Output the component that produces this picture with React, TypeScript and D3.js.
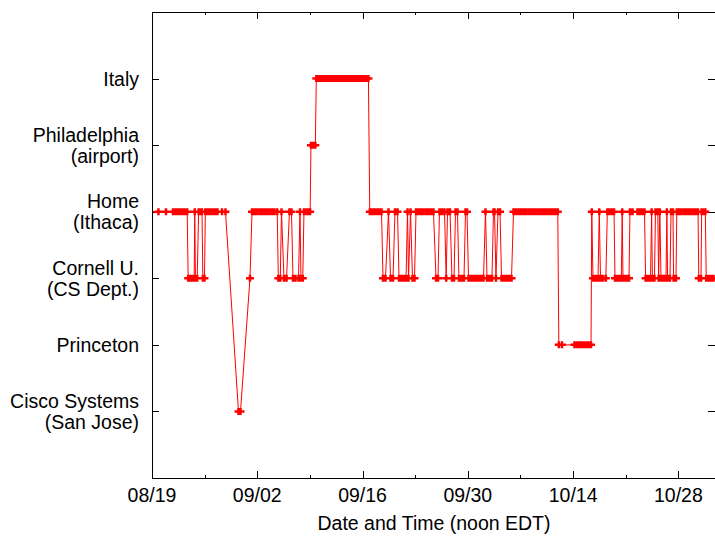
import React from "react";
import * as d3 from "d3";

// Y categories (level index -> label lines)
const placeLevels = [1, 2, 3, 4, 5, 6];
const placeLabels: string[][] = [
  ["Cisco Systems", "(San Jose)"],
  ["Princeton"],
  ["Cornell U.", "(CS Dept.)"],
  ["Home", "(Ithaca)"],
  ["Philadelphia", "(airport)"],
  ["Italy"],
];

// X axis ticks (days since 08/19)
const xTickDays = [0, 14, 28, 42, 56, 70];
const xTickLabels = ["08/19", "09/02", "09/16", "09/30", "10/14", "10/28"];
const xMinorTickDays = [7, 21, 35, 49, 63];
const xTitle = "Date and Time (noon EDT)";

// Samples: [days since 08/19, place level]
const samples: [number, number][] = [
  [-0.53, 4], [0.86, 4], [1.86, 4], [2.79, 4], [3.13, 4], [3.46, 4], [3.79, 4], [4.12, 4], [4.45, 4], [4.68, 4],
  [4.81, 3], [5.12, 3], [5.39, 3], [5.61, 3],
  [5.69, 4],
  [5.77, 3], [6.01, 3],
  [6.2, 4], [6.45, 4], [6.65, 4],
  [6.76, 3], [6.98, 3],
  [7.09, 4], [7.38, 4], [7.71, 4], [8.05, 4], [8.38, 4], [8.71, 4], [9.31, 4], [9.77, 4],
  [11.5, 1], [11.77, 1],
  [13.03, 3],
  [13.3, 4], [13.63, 4], [13.96, 4], [14.3, 4], [14.63, 4], [14.96, 4], [15.29, 4], [15.62, 4], [15.96, 4], [16.29, 4], [16.65, 4],
  [16.8, 3], [17.06, 3],
  [17.22, 4],
  [17.55, 3], [17.89, 3],
  [18.28, 4], [18.55, 4],
  [18.75, 3], [19.08, 3], [19.48, 3],
  [19.68, 4],
  [19.81, 3], [20.05, 3],
  [20.21, 4], [20.55, 4], [20.88, 4], [21.03, 4],
  [21.14, 5], [21.45, 5], [21.72, 5],
  [21.85, 6], [22.18, 6], [22.5, 6], [22.83, 6], [23.16, 6], [23.49, 6], [23.82, 6], [24.15, 6], [24.48, 6], [24.81, 6], [25.14, 6],
  [25.47, 6], [25.8, 6], [26.13, 6], [26.46, 6], [26.79, 6], [27.12, 6], [27.45, 6], [27.78, 6], [28.11, 6], [28.44, 6], [28.78, 6],
  [28.96, 4], [29.26, 4], [29.59, 4], [29.92, 4], [30.25, 4], [30.52, 4],
  [30.72, 3], [31.05, 3],
  [31.45, 4],
  [31.72, 3], [32.05, 3],
  [32.31, 4], [32.65, 4],
  [32.85, 3], [33.18, 3], [33.51, 3], [33.78, 3],
  [33.98, 4],
  [34.11, 3],
  [34.38, 4],
  [34.64, 3], [34.91, 3],
  [35.11, 4], [35.44, 4], [35.77, 4], [36.1, 4], [36.44, 4], [36.77, 4], [37.1, 4], [37.43, 4],
  [37.77, 3], [38.03, 3],
  [38.23, 4], [38.56, 4], [38.9, 4],
  [39.12, 3],
  [39.3, 4], [39.63, 4],
  [39.89, 3], [40.16, 3],
  [40.36, 4], [40.62, 4],
  [40.82, 3], [41.16, 3], [41.49, 3],
  [41.69, 4], [41.89, 4],
  [42.09, 3], [42.42, 3], [42.75, 3], [43.09, 3], [43.42, 3], [43.75, 3], [44.08, 3],
  [44.35, 4],
  [44.55, 3], [44.88, 3], [45.21, 3],
  [45.41, 4], [45.55, 4],
  [45.74, 3],
  [46.01, 4], [46.28, 4],
  [46.48, 3], [46.81, 3], [47.14, 3], [47.47, 3], [47.81, 3],
  [48.07, 4], [48.4, 4], [48.74, 4], [49.07, 4], [49.4, 4], [49.73, 4], [50.07, 4], [50.4, 4], [50.73, 4], [51.06, 4],
  [51.4, 4], [51.73, 4], [52.06, 4], [52.39, 4], [52.73, 4], [53.06, 4], [53.39, 4], [53.72, 4], [53.96, 4],
  [54.1, 2], [54.52, 2], [56.18, 2], [56.52, 2], [56.85, 2], [57.18, 2], [57.51, 2], [57.85, 2], [58.18, 2], [58.38, 2],
  [58.48, 4],
  [58.64, 3], [58.98, 3], [59.31, 3],
  [59.48, 4],
  [59.64, 3], [59.97, 3], [60.35, 3],
  [60.55, 4], [60.84, 4], [61.18, 4], [61.44, 4],
  [61.57, 3], [61.9, 3], [62.23, 3], [62.41, 3],
  [62.53, 4],
  [62.63, 3], [62.97, 3], [63.3, 3], [63.43, 3],
  [63.56, 4], [63.9, 4], [64.56, 4], [64.89, 4], [65.23, 4], [65.49, 4],
  [65.64, 3], [65.96, 3], [66.29, 3],
  [66.44, 4],
  [66.54, 3], [66.82, 3],
  [66.95, 4], [67.26, 4],
  [67.37, 3],
  [67.53, 4],
  [67.69, 3], [68.02, 3], [68.35, 3],
  [68.47, 4],
  [68.56, 3], [68.88, 3],
  [69.02, 4], [69.28, 4],
  [69.36, 3], [69.68, 3],
  [69.79, 4], [70.08, 4], [70.41, 4], [70.75, 4], [71.08, 4], [71.41, 4], [71.74, 4], [72.08, 4], [72.41, 4], [72.61, 4],
  [72.71, 3], [73.01, 3],
  [73.09, 4], [73.34, 4], [73.58, 4],
  [73.7, 3], [74.01, 3], [74.34, 3], [74.67, 3], [75.07, 3],
];

const W = 715;
const H = 537;
const left = 152;
const right = 716;
const top = 12;
const bottom = 478;
const FONT = "'Liberation Sans', Arial, Helvetica, sans-serif";
const FS = 19.5;

export default function App() {
  const x = d3.scaleLinear().domain([0, 75]).range([left, right]);
  const y = d3.scaleLinear().domain([0, 7]).range([bottom, top]);

  const line = d3
    .line<[number, number]>()
    .x((d) => x(d[0]))
    .y((d) => y(d[1]));

  const markerPath = samples
    .map((d) => {
      const px = x(d[0]);
      const py = y(d[1]);
      return `M${px - 4},${py}h8M${px},${py - 3.5}v7`;
    })
    .join("");

  const fx = (v: number) => Math.round(v) + 0.5;

  return (
    <svg
      width={W}
      height={H}
      style={{ position: "absolute", left: 0, top: 0, background: "#fff" }}
      fontFamily={FONT}
    >
      <defs>
        <clipPath id="plotClip">
          <rect x={left} y={top} width={right - left} height={bottom - top} />
        </clipPath>
      </defs>
      <rect x={0} y={0} width={W} height={H} fill="#fff" />

      {/* Y ticks and labels */}
      {placeLevels.map((lv, i) => {
        const py = fx(y(lv));
        const lines = placeLabels[i];
        return (
          <g key={"y" + lv}>
            <line x1={left} x2={left + 7} y1={py} y2={py} stroke="#000" strokeWidth={1} />
            <line x1={right - 8} x2={right} y1={py} y2={py} stroke="#000" strokeWidth={1} />
            {lines.map((t, j) => {
              const off = lines.length === 1 ? 0 : j === 0 ? -10.5 : 10.5;
              return (
                <text
                  key={j}
                  x={139}
                  y={y(lv) + off}
                  textAnchor="end"
                  dominantBaseline="central"
                  fontSize={FS}
                  fill="#000"
                >
                  {t}
                </text>
              );
            })}
          </g>
        );
      })}

      {/* X ticks and labels */}
      {xTickDays.map((d, i) => {
        const px = fx(x(d));
        return (
          <g key={"x" + d}>
            <line x1={px} x2={px} y1={bottom} y2={bottom - 7} stroke="#000" strokeWidth={1} />
            <line x1={px} x2={px} y1={top} y2={top + 7} stroke="#000" strokeWidth={1} />
            <text x={x(d)} y={502} textAnchor="middle" fontSize={FS} fill="#000">
              {xTickLabels[i]}
            </text>
          </g>
        );
      })}
      {xMinorTickDays.map((d) => {
        const px = fx(x(d));
        return (
          <g key={"m" + d}>
            <line x1={px} x2={px} y1={bottom} y2={bottom - 3} stroke="#000" strokeWidth={1} />
            <line x1={px} x2={px} y1={top} y2={top + 3} stroke="#000" strokeWidth={1} />
          </g>
        );
      })}
      <text x={(left + right) / 2} y={530} textAnchor="middle" fontSize={FS} fill="#000">
        {xTitle}
      </text>

      {/* Data */}
      <g clipPath="url(#plotClip)">
        <path d={line(samples) || ""} fill="none" stroke="#ff0000" strokeWidth={1} />
        <path d={markerPath} fill="none" stroke="#ff0000" strokeWidth={2.5} />
      </g>

      {/* Frame */}
      <rect
        x={left + 0.5}
        y={top + 0.5}
        width={right - left}
        height={bottom - top}
        fill="none"
        stroke="#000"
        strokeWidth={1}
      />
    </svg>
  );
}
